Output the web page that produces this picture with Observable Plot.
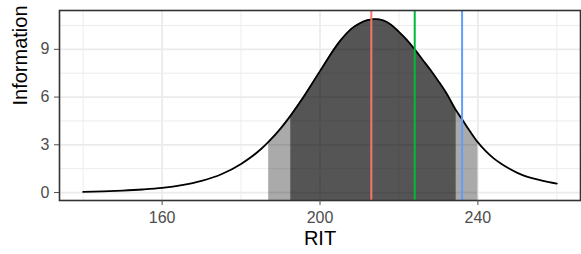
<!DOCTYPE html>
<html><head><meta charset="utf-8">
<script src="https://cdn.jsdelivr.net/npm/d3@7"></script>
<script src="https://cdn.jsdelivr.net/npm/@observablehq/plot@0.6"></script>
<style>body{margin:0;background:#fff}</style>
</head><body><div id="chart"></div>
<script>
const rit  = [140,145,150,155,160,165,170,175,180,185,187,190,192.6,195,200,205,208,210,212,214,216,218,220,222,224,226,228,230,232,234.5,236,238,240,242,244,246,248,250,252,255,258,260];
const info = [0.04,0.07,0.12,0.19,0.29,0.46,0.73,1.15,1.80,2.72,3.20,4.02,4.85,5.70,7.63,9.50,10.3,10.62,10.83,10.9,10.82,10.55,10.1,9.6,9.0,8.35,7.7,7.0,6.25,5.15,4.6,3.85,3.15,2.6,2.15,1.8,1.5,1.24,1.03,0.82,0.65,0.56];
const lightBand = [187, 240];
const darkBand = [192.6, 234.5];
const refRit = [213, 224, 236];
const refColors = ["#F8766D", "#00BA38", "#619CFF"];
const xTicks = [160, 200, 240];
const xMinor = [140, 180, 220, 260];
const yTicks = [0, 3, 6, 9];
const yMinor = [1.5, 4.5, 7.5, 10.5];
const xDomain = [134, 266];
const yDomain = [-0.5, 11.44];

const curve = rit.map((x, i) => ({x, y: info[i]}));
const inBand = b => curve.filter(d => d.x >= b[0] && d.x <= b[1]);
const refs = refRit.map((x, i) => ({x, c: refColors[i]}));

const chart = Plot.plot({
  width: 581, height: 254,
  marginLeft: 59, marginRight: 1, marginTop: 10, marginBottom: 54,
  style: {fontFamily: "Liberation Sans, Arial, sans-serif", background: "#fff"},
  x: {domain: xDomain},
  y: {domain: yDomain},
  marks: [
    Plot.gridX(xMinor, {stroke: "#ebebeb", strokeOpacity: 1, strokeWidth: 0.9}),
    Plot.gridY(yMinor, {stroke: "#ebebeb", strokeOpacity: 1, strokeWidth: 0.9}),
    Plot.gridX(xTicks, {stroke: "#ebebeb", strokeOpacity: 1, strokeWidth: 1.7}),
    Plot.gridY(yTicks, {stroke: "#ebebeb", strokeOpacity: 1, strokeWidth: 1.7}),
    Plot.areaY(inBand(lightBand), {x: "x", y1: yDomain[0], y2: "y", fill: "black", fillOpacity: 0.333, curve: "monotone-x"}),
    Plot.areaY(inBand(darkBand), {x: "x", y1: yDomain[0], y2: "y", fill: "black", fillOpacity: 0.5, curve: "monotone-x"}),
    Plot.line(curve, {x: "x", y: "y", stroke: "black", strokeWidth: 1.8, curve: "monotone-x"}),
    Plot.ruleX(refs, {x: "x", stroke: "c", strokeWidth: 2}),
    Plot.frame({stroke: "#333", strokeWidth: 1.6}),
    Plot.axisX(xTicks, {tickSize: 5, tickPadding: 6, fontSize: 16, color: "#4d4d4d", label: null}),
    Plot.axisY(yTicks, {tickSize: 5, tickPadding: 5, fontSize: 16, color: "#4d4d4d", label: null}),
    Plot.text(["RIT"], {frameAnchor: "bottom", dy: 44, fontSize: 20, fill: "black"}),
    Plot.text(["Information"], {frameAnchor: "left", dx: -39, rotate: -90, fontSize: 20, fill: "black"})
  ]
});
document.getElementById("chart").appendChild(chart);
</script>
</body></html>
